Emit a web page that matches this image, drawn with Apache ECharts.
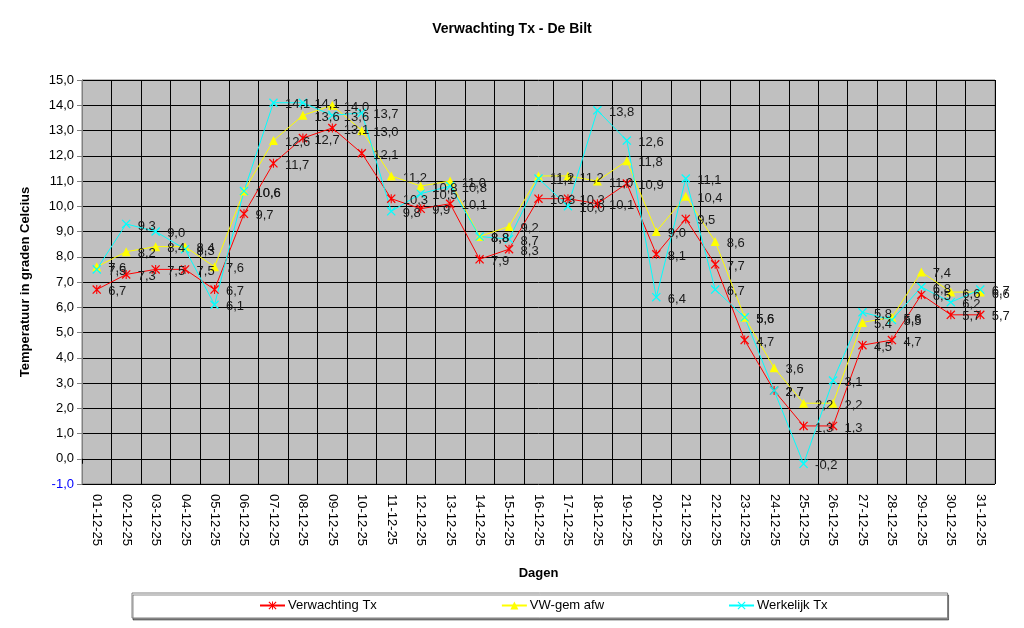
<!DOCTYPE html>
<html>
<head>
<meta charset="utf-8">
<title>Verwachting Tx - De Bilt</title>
<script src="https://cdn.jsdelivr.net/npm/echarts@6/dist/echarts.min.js"></script>
<style>
  html, body { margin: 0; padding: 0; background: #fff; }
  #myChart { width: 1024px; height: 628px; }
</style>
</head>
<body>
<div id="myChart"></div>
<script>
// dagen in december
var dagen = ['01-12-25','02-12-25','03-12-25','04-12-25','05-12-25','06-12-25','07-12-25','08-12-25',
	'09-12-25','10-12-25','11-12-25','12-12-25','13-12-25','14-12-25','15-12-25','16-12-25','17-12-25',
	'18-12-25','19-12-25','20-12-25','21-12-25','22-12-25','23-12-25','24-12-25','25-12-25','26-12-25',
	'27-12-25','28-12-25','29-12-25','30-12-25','31-12-25'];

var verwachtingTx = [6.7, 7.3, 7.5, 7.5, 6.7, 9.7, 11.7, 12.7, 13.1, 12.1, 10.3, 9.9, 10.1, 7.9, 8.3, 10.3,
	10.3, 10.1, 10.9, 8.1, 9.5, 7.7, 4.7, 2.7, 1.3, 1.3, 4.5, 4.7, 6.5, 5.7, 5.7];

var vwGemAfw = [7.6, 8.2, 8.4, 8.4, 7.6, 10.6, 12.6, 13.6, 14.0, 13.0, 11.2, 10.8, 11.0, 8.8, 9.2, 11.2,
	11.2, 11.0, 11.8, 9.0, 10.4, 8.6, 5.6, 3.6, 2.2, 2.2, 5.4, 5.6, 7.4, 6.6, 6.6];

var werkelijkTx = [7.5, 9.3, 9.0, 8.3, 6.1, 10.6, 14.1, 14.1, 13.6, 13.7, 9.8, 10.5, 10.8, 8.8, 8.7, 11.1,
	10.0, 13.8, 12.6, 6.4, 11.1, 6.7, 5.6, 2.7, -0.2, 3.1, 5.8, 5.5, 6.8, 6.2, 6.7];

// markers zoals in Excel: sterretje en kruisje
var symStar = 'path://M0,1L1,0L10,9L9,10ZM9,0L10,1L1,10L0,9ZM4.4,0L5.6,0L5.6,10L4.4,10Z';
var symCross = 'path://M0,1L1,0L10,9L9,10ZM9,0L10,1L1,10L0,9Z';

var fontName = '"Liberation Sans", Arial, sans-serif';

function komma(v) {
	return Number(v).toFixed(1).replace('.', ',');
}

function maakSerie(naam, data, kleur, symbol) {
	return {
		name: naam,
		type: 'line',
		data: data,
		symbol: symbol,
		symbolSize: 9,
		lineStyle: { color: kleur, width: 1 },
		itemStyle: { color: kleur },
		label: {
			show: true,
			position: 'right',
			distance: 7,
			offset: [0, 2],
			color: '#1a1a1a',
			fontFamily: fontName,
			fontSize: 13,
			formatter: function(p){ return komma(p.value); }
		},
		emphasis: { disabled: true }
	};
}

var myChart = echarts.init(document.getElementById('myChart'));
var option = {
	animation: false,
	backgroundColor: '#ffffff',
	textStyle: { fontFamily: fontName },
	title: {
		text: 'Verwachting Tx - De Bilt',
		left: 'center',
		top: 17,
		textStyle: { fontFamily: fontName, fontSize: 14, fontWeight: 'bold', color: '#000' }
	},
	grid: {
		show: true,
		left: 82,
		right: 29,
		top: 80,
		bottom: 144,
		backgroundColor: '#C0C0C0',
		borderColor: '#808080',
		borderWidth: 1
	},
	legend: {
		data: ['Verwachting Tx', 'VW-gem afw', 'Werkelijk Tx'],
		left: 132,
		top: 593,
		padding: [6, 120, 6, 127],
		itemGap: 124,
		itemWidth: 25,
		itemHeight: 10,
		backgroundColor: '#ffffff',
		borderColor: '#808080',
		borderWidth: 1,
		shadowColor: 'rgba(0,0,0,0.45)',
		shadowOffsetX: 1,
		shadowOffsetY: 2,
		textStyle: { fontFamily: fontName, fontSize: 13, color: '#000', padding: [0, 0, 0, -2] }
	},
	xAxis: {
		type: 'category',
		data: dagen,
		boundaryGap: true,
		name: 'Dagen',
		nameLocation: 'middle',
		nameGap: 83,
		nameTextStyle: { fontFamily: fontName, fontSize: 13, fontWeight: 'bold', color: '#000' },
		axisLine: { lineStyle: { color: '#000', width: 1 } },
		axisTick: { show: true, length: 5, interval: 0, lineStyle: { color: '#000' } },
		axisLabel: {
			interval: 0,
			rotate: -90,
			margin: 10,
			fontFamily: fontName,
			fontSize: 13,
			color: '#000'
		},
		splitLine: { show: true, interval: 0, lineStyle: { color: '#000', width: 1 } }
	},
	yAxis: {
		type: 'value',
		min: -1,
		max: 15,
		interval: 1,
		name: 'Temperatuur in graden Celcius',
		nameLocation: 'middle',
		nameRotate: 90,
		nameGap: 50,
		nameTextStyle: { fontFamily: fontName, fontSize: 13, fontWeight: 'bold', color: '#000' },
		axisLine: { show: true, lineStyle: { color: '#808080', width: 1 } },
		axisTick: { show: true, length: 5, lineStyle: { color: '#808080' } },
		axisLabel: {
			margin: 8,
			fontFamily: fontName,
			fontSize: 13,
			color: function(v){ return v < 0 ? '#0000ff' : '#000'; },
			formatter: function(v){ return komma(v); }
		},
		splitLine: { show: true, lineStyle: { color: '#000', width: 1 } }
	},
	series: [
		maakSerie('Verwachting Tx', verwachtingTx, '#ff0000', symStar),
		maakSerie('VW-gem afw', vwGemAfw, '#ffff00', 'triangle'),
		maakSerie('Werkelijk Tx', werkelijkTx, '#00ffff', symCross)
	]
};

myChart.setOption(option);
</script>
</body>
</html>
